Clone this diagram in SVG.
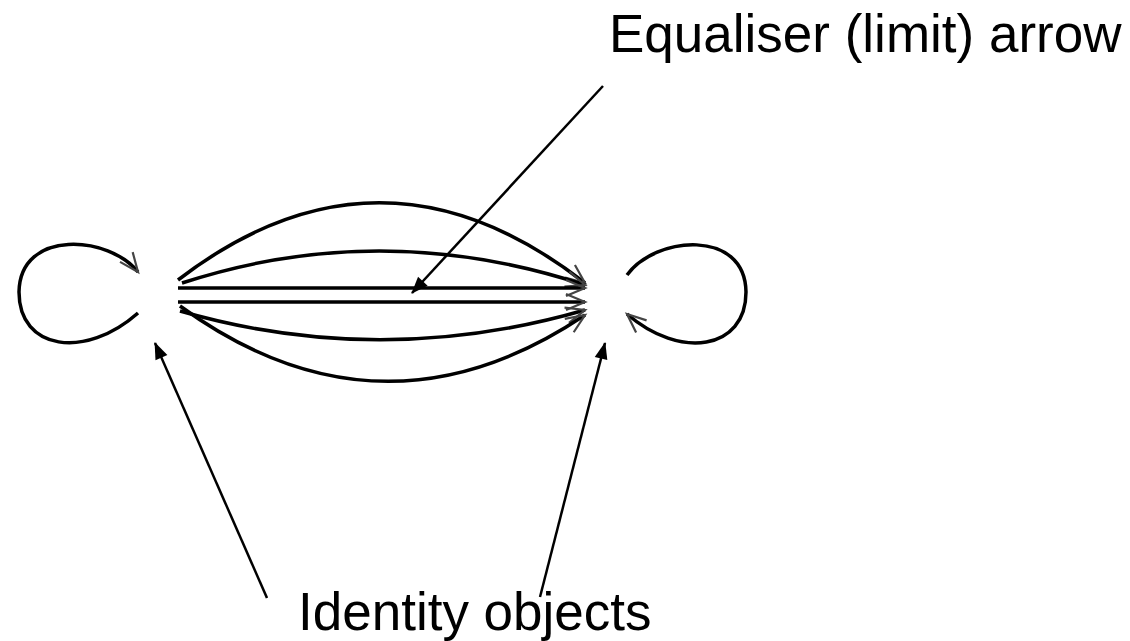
<svg xmlns="http://www.w3.org/2000/svg" width="1130" height="641" viewBox="0 0 1130 641">
  <style>
    .lbl { font-family: "Liberation Sans", Arial, sans-serif; font-size: 53px; fill: #000; }
    .arc { fill: none; stroke: #000; stroke-width: 3.5; marker-end: url(#open); }
    .ptr { fill: none; stroke: #000; stroke-width: 2.5; marker-end: url(#solid); }
  </style>
  <defs>
    <marker id="open" markerUnits="userSpaceOnUse" markerWidth="40" markerHeight="40" refX="0" refY="0" viewBox="-25 -20 40 40" orient="auto" overflow="visible">
      <path d="M-19,-8 L0,0 L-19,8" fill="none" stroke="#444" stroke-width="2.2"/>
    </marker>
    <marker id="solid" markerUnits="userSpaceOnUse" markerWidth="30" markerHeight="30" refX="0" refY="0" viewBox="-20 -15 30 30" orient="auto" overflow="visible">
      <path d="M1,0 L-16,-6.5 L-16,6.5 Z" fill="#000"/>
    </marker>
  </defs>
  <rect width="1130" height="641" fill="#fff"/>

  <g id="left-object">
    <path class="arc" d="M138,313 C85,360 19,350 19,292 C20,228 110,236 138,272"/>
  </g>
  <g id="right-object">
    <path class="arc" d="M627,275 C655,236 745,228 746,292 C746,350 680,360 627,314"/>
  </g>

  <g id="connectors">
    <path class="arc" d="M178,280 Q381,124 585,283"/>
    <path class="arc" d="M182,283 Q381,218 585,285"/>
    <path class="arc" d="M178,288 L585,288"/>
    <path class="arc" d="M178,302 L585,302"/>
    <path class="arc" d="M180,311 Q381,369 585,310"/>
    <path class="arc" d="M180,306 Q381,452 585,315"/>
    <path class="ptr" d="M603,86 L412,293"/>
    <path class="ptr" d="M267,598 L155,343"/>
    <path class="ptr" d="M540,597 L605,343"/>
  </g>

  <g id="label-equaliser">
    <text class="lbl" x="609" y="52">Equaliser (limit) arrow</text>
  </g>
  <g id="label-identity">
    <text class="lbl" x="298" y="630">Identity objects</text>
  </g>
</svg>
